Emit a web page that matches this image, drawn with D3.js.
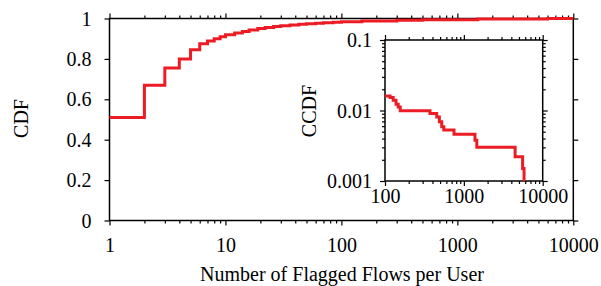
<!DOCTYPE html>
<html>
<head>
<meta charset="utf-8">
<script src="https://cdn.jsdelivr.net/npm/d3@7"></script>
<style>
  body { margin: 0; background: #fff; }
</style>
</head>
<body>
<div id="chart-area"></div>
<script>
// main CDF (step points)
const cdfX = [1, 2, 3, 4, 5, 6, 7, 8, 9, 10, 12, 14, 16, 19, 22, 26, 30, 36, 43, 50, 60, 70, 85, 100, 150, 300, 500, 1500, 5000, 6000, 10000]
const cdfY = [0.51, 0.67, 0.755, 0.80, 0.845, 0.875, 0.888, 0.90, 0.91, 0.92, 0.928, 0.936, 0.943, 0.95, 0.955, 0.96, 0.964, 0.968, 0.971, 0.974, 0.977, 0.979, 0.982, 0.984, 0.988, 0.991, 0.994, 0.997, 0.998, 1, 1]

// inset CCDF (tail, x >= 100)
const ccdfX = [100, 116, 127, 138, 147, 156, 372, 453, 489, 524, 557, 750, 1384, 1460, 4470, 5560, 5800]
const ccdfY = [0.0161, 0.0153, 0.0140, 0.0123, 0.0112, 0.0099, 0.0091, 0.0081, 0.0069, 0.0059, 0.0053, 0.0046, 0.0038, 0.0030, 0.0022, 0.0015, 0.001]

const xTicks = [1, 10, 100, 1000, 10000]
const yTicks = [0, 0.2, 0.4, 0.6, 0.8, 1]
const insetXTicks = [100, 1000, 10000]
const insetYTicks = [0.001, 0.01, 0.1]
const insetYLabels = ["0.001", "0.01", "0.1"]

const RED = "#ec1c24"
const FONT = "'Liberation Serif', 'Times New Roman', Times, serif"
const FS = "20px"
const MAIN = { LEFT: 109.5, RIGHT: 573.3, TOP: 18.5, BOTTOM: 220.5 }
const INSET = { LEFT: 385, RIGHT: 542.7, TOP: 40, BOTTOM: 181 }

const svg = d3.select("#chart-area").append("svg")
  .attr("width", 601)
  .attr("height", 286)

// minor ticks for a log range
function minors(lo, hi) {
  const out = []
  for (let p = lo; p < hi; p *= 10) {
    for (let k = 2; k <= 9; k++) out.push(p * k)
  }
  return out
}

function styleAxis(sel) {
  sel.attr("font-family", null).attr("font-size", null)
  sel.select(".domain").remove()
  sel.selectAll("line").attr("stroke", "#000").attr("stroke-width", 1.2)
  sel.selectAll("text").style("font-family", FONT).style("font-size", FS).attr("fill", "#000")
}

function label(sel) {
  return sel.style("font-family", FONT).style("font-size", FS).attr("fill", "#000")
}

// ---------- main plot ----------
const x = d3.scaleLog().domain([1, 10000]).range([MAIN.LEFT, MAIN.RIGHT])
const y = d3.scaleLinear().domain([0, 1]).range([MAIN.BOTTOM, MAIN.TOP])

const xMin = minors(1, 10000)

// bottom
svg.append("g").attr("transform", `translate(0,${MAIN.BOTTOM})`)
  .call(d3.axisBottom(x).tickValues(xTicks).tickSize(5).tickFormat(d => d))
  .call(styleAxis)
  .selectAll("text").attr("y", 31.5).attr("dy", 0)
svg.append("g").attr("transform", `translate(0,${MAIN.BOTTOM})`)
  .call(d3.axisBottom(x).tickValues(xMin).tickSize(3).tickFormat(""))
  .call(styleAxis)
// top
svg.append("g").attr("transform", `translate(0,${MAIN.TOP})`)
  .call(d3.axisTop(x).tickValues(xTicks).tickSize(5).tickFormat(""))
  .call(styleAxis)
svg.append("g").attr("transform", `translate(0,${MAIN.TOP})`)
  .call(d3.axisTop(x).tickValues(xMin).tickSize(3).tickFormat(""))
  .call(styleAxis)
// left
svg.append("g").attr("transform", `translate(${MAIN.LEFT},0)`)
  .call(d3.axisLeft(y).tickValues(yTicks).tickSize(5).tickPadding(13).tickFormat(d => d))
  .call(styleAxis)
  .selectAll("text").attr("dy", "0.33em")
// right
svg.append("g").attr("transform", `translate(${MAIN.RIGHT},0)`)
  .call(d3.axisRight(y).tickValues(yTicks).tickSize(5).tickFormat(""))
  .call(styleAxis)

svg.append("rect")
  .attr("x", MAIN.LEFT).attr("y", MAIN.TOP)
  .attr("width", MAIN.RIGHT - MAIN.LEFT).attr("height", MAIN.BOTTOM - MAIN.TOP)
  .attr("fill", "none").attr("stroke", "#000").attr("stroke-width", 1.5)

const cdfData = cdfX.map((v, i) => [v, cdfY[i]])
svg.append("path")
  .datum(cdfData)
  .attr("fill", "none")
  .attr("stroke", RED)
  .attr("stroke-width", 3)
  .attr("d", d3.line().x(d => x(d[0])).y(d => y(d[1])).curve(d3.curveStepAfter))

svg.append("text")
  .attr("transform", `translate(28,118.5) rotate(-90)`)
  .attr("text-anchor", "middle")
  .call(label)
  .text("CDF")

svg.append("text")
  .attr("x", 342).attr("y", 281)
  .attr("text-anchor", "middle")
  .call(label)
  .text("Number of Flagged Flows per User")

// ---------- inset ----------
const ix = d3.scaleLog().domain([100, 10000]).range([INSET.LEFT, INSET.RIGHT])
const iy = d3.scaleLog().domain([0.001, 0.1]).range([INSET.BOTTOM, INSET.TOP])

const ixMin = minors(100, 10000)
const iyMin = minors(0.001, 0.1)

svg.append("rect")
  .attr("x", INSET.LEFT).attr("y", INSET.TOP)
  .attr("width", INSET.RIGHT - INSET.LEFT).attr("height", INSET.BOTTOM - INSET.TOP)
  .attr("fill", "#fff")

svg.append("g").attr("transform", `translate(0,${INSET.BOTTOM})`)
  .call(d3.axisBottom(ix).tickValues(insetXTicks).tickSize(5).tickFormat(d => d))
  .call(styleAxis)
  .selectAll("text").attr("y", 22).attr("dy", 0)
svg.append("g").attr("transform", `translate(0,${INSET.BOTTOM})`)
  .call(d3.axisBottom(ix).tickValues(ixMin).tickSize(3).tickFormat(""))
  .call(styleAxis)
svg.append("g").attr("transform", `translate(0,${INSET.TOP})`)
  .call(d3.axisTop(ix).tickValues(insetXTicks).tickSize(5).tickFormat(""))
  .call(styleAxis)
svg.append("g").attr("transform", `translate(0,${INSET.TOP})`)
  .call(d3.axisTop(ix).tickValues(ixMin).tickSize(3).tickFormat(""))
  .call(styleAxis)
svg.append("g").attr("transform", `translate(${INSET.LEFT},0)`)
  .call(d3.axisLeft(iy).tickValues(insetYTicks).tickSize(5).tickPadding(8)
    .tickFormat((d, i) => insetYLabels[i]))
  .call(styleAxis)
  .selectAll("text").attr("dy", "0.33em")
svg.append("g").attr("transform", `translate(${INSET.LEFT},0)`)
  .call(d3.axisLeft(iy).tickValues(iyMin).tickSize(3).tickFormat(""))
  .call(styleAxis)
svg.append("g").attr("transform", `translate(${INSET.RIGHT},0)`)
  .call(d3.axisRight(iy).tickValues(insetYTicks).tickSize(5).tickFormat(""))
  .call(styleAxis)
svg.append("g").attr("transform", `translate(${INSET.RIGHT},0)`)
  .call(d3.axisRight(iy).tickValues(iyMin).tickSize(3).tickFormat(""))
  .call(styleAxis)

svg.append("rect")
  .attr("x", INSET.LEFT).attr("y", INSET.TOP)
  .attr("width", INSET.RIGHT - INSET.LEFT).attr("height", INSET.BOTTOM - INSET.TOP)
  .attr("fill", "none").attr("stroke", "#000").attr("stroke-width", 1.5)

const ccdfData = ccdfX.map((v, i) => [v, ccdfY[i]])
svg.append("path")
  .datum(ccdfData)
  .attr("fill", "none")
  .attr("stroke", RED)
  .attr("stroke-width", 3)
  .attr("d", d3.line().x(d => ix(d[0])).y(d => iy(d[1])).curve(d3.curveStepAfter))

svg.append("text")
  .attr("transform", `translate(316,111) rotate(-90)`)
  .attr("text-anchor", "middle")
  .call(label)
  .text("CCDF")
</script>
</body>
</html>
